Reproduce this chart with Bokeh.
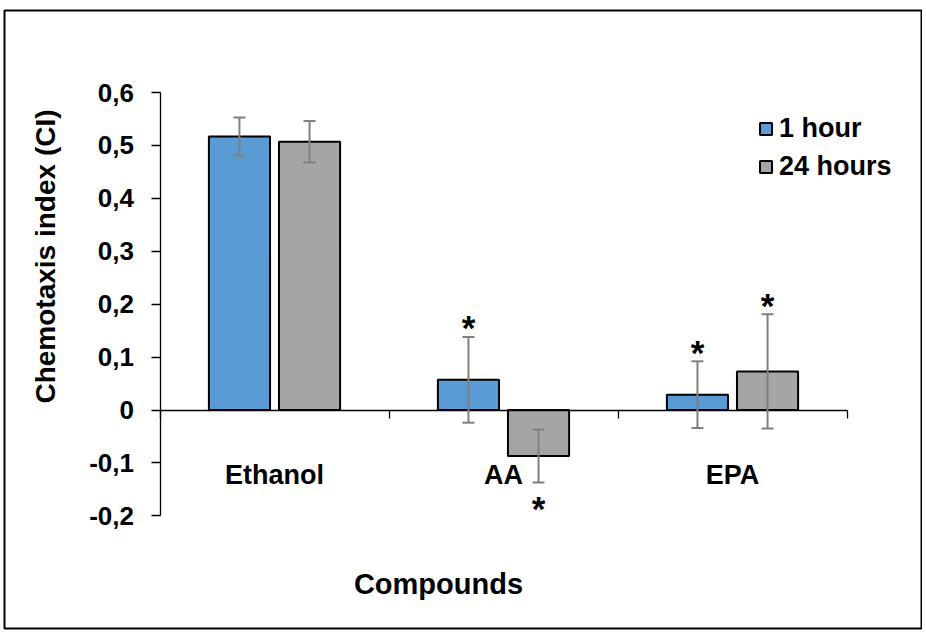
import math
from bokeh.plotting import figure
from bokeh.models import (ColumnDataSource, Whisker, TeeHead, FixedTicker, Label,
                          Legend, LegendItem, Range1d, CustomJSTickFormatter, BoxAnnotation)
from bokeh.core.properties import value
from bokeh.embed import file_html
from bokeh.resources import INLINE

# ---------------- data ----------------
categories = ["Ethanol", "AA", "EPA"]
series_names = ["1 hour", "24 hours"]
ci_1h = [0.517, 0.057, 0.029]
err_1h = [0.036, 0.081, 0.063]
ci_24h = [0.507, -0.087, 0.073]
err_24h = [0.039, 0.050, 0.108]
sig_1h = [False, True, True]
sig_24h = [False, True, True]
y_ticks = [-0.2, -0.1, 0.0, 0.1, 0.2, 0.3, 0.4, 0.5, 0.6]
y_tick_labels = ["-0,2", "-0,1", "0", "0,1", "0,2", "0,3", "0,4", "0,5", "0,6"]
x_title = "Compounds"
y_title = "Chemotaxis index (CI)"

# ---------------- layout / style ----------------
FONT = "Liberation Sans"
BLUE = "#5B9BD5"
GRAY = "#A5A5A5"
ERR = "#808080"
W, H = 922, 630
X0_PX, X_SCALE = 159.5, 229.0     # pixel of x=0, pixels per category
Y0_PX, Y_SCALE = 409.5, 529.1     # pixel of y=0, pixels per unit

def px2x(px):
    return (px - X0_PX) / X_SCALE

def px2y(py):
    return (Y0_PX - py) / Y_SCALE

p = figure(width=W, height=H, output_backend="svg", toolbar_location=None,
           x_range=Range1d(px2x(0), px2x(W)), y_range=Range1d(px2y(H), px2y(0)),
           min_border_left=0, min_border_right=0, min_border_top=0, min_border_bottom=0)
p.grid.visible = False
p.outline_line_color = None
p.background_fill_color = "white"
p.border_fill_color = "white"

# outer chart border
p.add_layout(BoxAnnotation(left=px2x(4), right=px2x(921), top=px2y(10), bottom=px2y(628),
                           fill_alpha=0, line_color="black", line_alpha=1.0,
                           line_width=2, level="underlay"))

offset = 0.153
bw = 0.267

def make_source(vals, errs, sign):
    xs = [i + 0.5 + sign * offset for i in range(len(vals))]
    upper = [v + e for v, e in zip(vals, errs)]
    lower = [v - e for v, e in zip(vals, errs)]
    return ColumnDataSource(dict(x=xs, top=vals, upper=upper, lower=lower)), xs, upper, lower

src1, x1, up1, lo1 = make_source(ci_1h, err_1h, -1)
src2, x2, up2, lo2 = make_source(ci_24h, err_24h, +1)

r1 = p.vbar(x="x", top="top", bottom=0, width=bw, source=src1,
            fill_color=BLUE, line_color="black", line_width=2)
r2 = p.vbar(x="x", top="top", bottom=0, width=bw, source=src2,
            fill_color=GRAY, line_color="black", line_width=2)

for src in (src1, src2):
    w = Whisker(base="x", upper="upper", lower="lower", source=src,
                line_color=ERR, line_width=2, level="overlay",
                upper_head=TeeHead(size=12, line_color=ERR, line_width=2),
                lower_head=TeeHead(size=12, line_color=ERR, line_width=2))
    p.add_layout(w)

# significance asterisks
ax, ay, aoff = [], [], []
for xs, vals, ups, los, sig in ((x1, ci_1h, up1, lo1, sig_1h), (x2, ci_24h, up2, lo2, sig_24h)):
    for xx, v, u, l, s in zip(xs, vals, ups, los, sig):
        if not s:
            continue
        ax.append(xx)
        if v >= 0:
            ay.append(u)
            aoff.append(-9)
        else:
            ay.append(l)
            aoff.append(26)
star_src = ColumnDataSource(dict(x=ax, y=ay, yoff=aoff, t=["*"] * len(ax)))
p.text(x="x", y="y", text="t", y_offset="yoff", source=star_src,
       text_font=value(FONT), text_font_style="bold", text_font_size="35px",
       text_align="center", text_baseline="middle", text_color="black")

# category labels
p.text(x=[i + 0.5 for i in range(len(categories))], y=[px2y(474)] * len(categories),
       text=categories, text_font=value(FONT), text_font_style="bold",
       text_font_size="27px", text_align="center", text_baseline="middle",
       text_color="black")

# axes (fixed at zero, bounded)
xa = p.xaxis[0]
xa.fixed_location = 0
xa.bounds = (0, len(categories))
xa.ticker = FixedTicker(ticks=list(range(len(categories) + 1)))
xa.major_tick_in = 0
xa.major_tick_out = 8
xa.minor_tick_line_color = None
xa.major_label_text_color = None
xa.axis_line_color = "black"
xa.axis_line_width = 1.3
xa.major_tick_line_width = 1.3

ya = p.yaxis[0]
ya.fixed_location = 0
ya.bounds = (y_ticks[0], y_ticks[-1])
ya.ticker = FixedTicker(ticks=y_ticks)
ya.formatter = CustomJSTickFormatter(args=dict(tvals=y_ticks, tlabels=y_tick_labels), code="""
let best = 0, bd = Infinity;
for (let i = 0; i < tvals.length; i++) {
  const d = Math.abs(tvals[i] - tick);
  if (d < bd) { bd = d; best = i; }
}
return tlabels[best];
""")
ya.major_tick_in = 0
ya.major_tick_out = 9
ya.minor_tick_line_color = None
ya.major_label_standoff = 17
ya.major_label_text_font = FONT
ya.major_label_text_font_style = "bold"
ya.major_label_text_font_size = "26px"
ya.major_label_text_color = "black"
ya.axis_line_color = "black"
ya.axis_line_width = 1.3
ya.major_tick_line_width = 1.3

# titles
p.add_layout(Label(x=px2x(45), y=px2y(256), text=y_title, angle=math.pi / 2,
                   text_align="center", text_baseline="middle", text_font=FONT,
                   text_font_style="bold", text_font_size="28px", text_color="black"))
p.add_layout(Label(x=px2x(438), y=px2y(583), text=x_title, text_align="center",
                   text_baseline="middle", text_font=FONT, text_font_style="bold",
                   text_font_size="29px", text_color="black"))

legend = Legend(items=[LegendItem(label=series_names[0], renderers=[r1]),
                       LegendItem(label=series_names[1], renderers=[r2])],
                location=(758, 448), glyph_width=15, glyph_height=15,
                label_text_font=FONT, label_text_font_style="bold",
                label_text_font_size="27px", label_text_color="black",
                label_standoff=6, spacing=7,
                padding=0, margin=0, border_line_color=None,
                background_fill_alpha=0)
p.add_layout(legend)

open("out.html", "w").write(file_html(p, INLINE))
